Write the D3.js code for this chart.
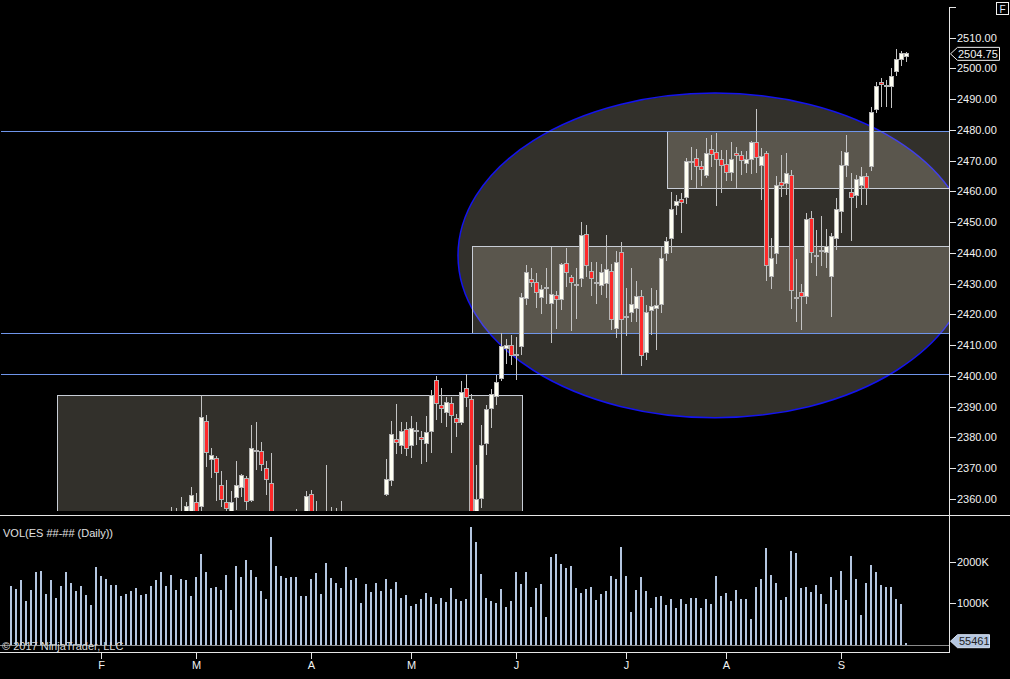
<!DOCTYPE html>
<html>
<head>
<meta charset="utf-8">
<script src="https://cdn.jsdelivr.net/npm/d3@7"></script>
<style>
  html, body { margin: 0; padding: 0; background: #000; }
  svg { display: block; font-family: "Liberation Sans", Arial, sans-serif; }
</style>
</head>
<body>
<svg id="chart" width="1010" height="679"></svg>
<script>
// daily ES bars, Jan 5 - Sep 21 2017 (early bars are below the visible range)
const barOpen = [
  2262, 2265, 2268, 2261, 2266, 2264, 2258, 2263, 2268, 2260,
  2262, 2264, 2280, 2294, 2296, 2292, 2276, 2278, 2276, 2278,
  2280, 2294, 2290, 2292, 2304, 2312, 2318, 2332, 2340, 2344,
  2346, 2348, 2350, 2353, 2351, 2355, 2356, 2359, 2357.5, 2385.25,
  2373, 2373.25, 2364.5, 2358.75, 2356, 2360.5, 2363.75, 2366.75, 2359.5, 2375.5,
  2375.5, 2370, 2365, 2342, 2345, 2340, 2348, 2344, 2352, 2351,
  2361.5, 2350, 2352, 2346, 2350, 2348, 2350, 2344, 2334, 2332,
  2326, 2344, 2336, 2326, 2346, 2361.5, 2366, 2379.25, 2377.5, 2382.5,
  2377.5, 2382.25, 2380, 2378, 2382, 2398.5, 2390.5, 2388, 2391, 2386.25,
  2384.75, 2396, 2392.5, 2352, 2360.25, 2378, 2389.5, 2393.25, 2399.25, 2409,
  2410, 2406.75, 2409.75, 2425.25, 2431.5, 2430.5, 2425.5, 2428.5, 2423.5, 2426.25,
  2425, 2436.5, 2432, 2429.5, 2431.75, 2446, 2434, 2430, 2429.5, 2430,
  2434, 2415.5, 2440.25, 2419.25, 2420.5, 2422, 2426, 2407.75, 2421.25, 2422,
  2423.25, 2439.75, 2444.75, 2455.5, 2457.5, 2458, 2469.75, 2470.75, 2468.25, 2465.25,
  2473.75, 2472.75, 2470.5, 2468.75, 2466.25, 2472.5, 2471.75, 2469, 2470.25, 2476,
  2468.5, 2472.5, 2432.5, 2439.75, 2463, 2462.75, 2465.25, 2425.25, 2427.25, 2426,
  2451.25, 2438.75, 2440.75, 2440.25, 2432.25, 2444.75, 2453.5, 2468.5, 2459.75, 2458.75,
  2462, 2464.75, 2468, 2486.75, 2495.5, 2494.25, 2494, 2499, 2503, 2503.75
];
const barHigh = [
  2268, 2271, 2270, 2268, 2272, 2268, 2266, 2270, 2271, 2266,
  2268, 2282, 2296, 2299, 2298, 2294, 2282, 2284, 2286, 2282,
  2298, 2298, 2296, 2306, 2314, 2322, 2334, 2342, 2346, 2349,
  2350, 2354, 2357.25, 2357, 2360.75, 2359, 2364, 2362, 2393.75, 2387.25,
  2376.5, 2374, 2369, 2366.25, 2362.5, 2372.25, 2368, 2367.5, 2384, 2385,
  2378.5, 2372.5, 2375, 2348, 2350, 2352, 2354, 2356.75, 2355, 2362.75,
  2363, 2359.25, 2354, 2371, 2357.5, 2357, 2359.25, 2350, 2340, 2338,
  2346, 2348, 2342, 2350, 2354, 2373, 2385.25, 2391, 2385, 2385,
  2387, 2385, 2382, 2387, 2395.5, 2400, 2396.25, 2393.25, 2393.25, 2387.5,
  2398.25, 2400.5, 2394, 2371, 2384, 2390.5, 2395.75, 2400.25, 2414, 2412,
  2413.25, 2412.75, 2427, 2436, 2435, 2433.5, 2429.5, 2435.25, 2442, 2427.5,
  2436.75, 2441.5, 2432.75, 2435, 2450, 2449.25, 2437, 2437, 2436.5, 2445.75,
  2436.5, 2440.75, 2443.5, 2428.5, 2435, 2430.75, 2428, 2423, 2428.5, 2428,
  2442, 2445.25, 2459.75, 2458.75, 2459.5, 2470.75, 2474.5, 2473.75, 2469.75, 2477.25,
  2478.5, 2479, 2473.5, 2473.5, 2476, 2474.5, 2473, 2473, 2476.5, 2486.75,
  2474, 2473, 2445, 2465, 2472, 2472.5, 2467, 2438, 2430, 2453,
  2453.5, 2447.5, 2452, 2447.75, 2446.5, 2458, 2473, 2478.5, 2466, 2465.5,
  2468, 2466, 2487.5, 2495.75, 2496.75, 2496.25, 2500, 2506.25, 2505.75, 2505.5
];
const barLow = [
  2258, 2260, 2258, 2256, 2260, 2254, 2255, 2259, 2256, 2254,
  2258, 2262, 2278, 2290, 2288, 2272, 2268, 2270, 2270, 2268,
  2278, 2286, 2284, 2290, 2302, 2308, 2316, 2328, 2336, 2338,
  2340, 2344, 2346, 2348, 2347, 2350, 2353, 2352, 2355, 2370.5,
  2366.75, 2359.5, 2357.5, 2354, 2354, 2356.5, 2360.75, 2356.5, 2359, 2369.5,
  2369, 2361.25, 2340, 2334, 2337, 2331, 2340, 2340, 2344, 2348,
  2348, 2344, 2340, 2340, 2340, 2342, 2340, 2330, 2326, 2322,
  2324, 2332, 2320, 2324, 2338, 2361, 2364.25, 2374.75, 2374.75, 2374,
  2373.25, 2377.5, 2371.5, 2372, 2375, 2385.75, 2384.75, 2383.5, 2375, 2380.25,
  2384, 2390, 2353, 2345, 2357, 2374.25, 2383, 2390.5, 2398.5, 2404,
  2403.5, 2398.75, 2406.75, 2423, 2429, 2422, 2420, 2423.25, 2410.75, 2415.25,
  2421.5, 2429, 2414.5, 2418.5, 2429, 2432.25, 2426, 2423.5, 2426.25, 2425.25,
  2415, 2412.25, 2400.25, 2413, 2417.5, 2417.5, 2403.25, 2405.25, 2413.25, 2408.5,
  2420.5, 2437.25, 2440, 2452.25, 2446.5, 2456, 2463.75, 2461.25, 2461.75, 2464.5,
  2468, 2455.25, 2459.5, 2463.5, 2463.25, 2461.25, 2465.5, 2466, 2465.75, 2466,
  2457.25, 2431, 2428.25, 2436.5, 2458.25, 2458.75, 2421.75, 2417.5, 2415, 2423.5,
  2436.75, 2432.5, 2435.75, 2435, 2419.25, 2441, 2446.5, 2464.75, 2443.75, 2454.75,
  2455.5, 2455.5, 2466.75, 2485.5, 2487.5, 2487.5, 2487, 2497.5, 2500.75, 2502.25
];
const barClose = [
  2265, 2268, 2261, 2266, 2264, 2258, 2263, 2268, 2260, 2262,
  2264, 2280, 2294, 2296, 2292, 2276, 2278, 2276, 2278, 2280,
  2294, 2290, 2292, 2304, 2312, 2318, 2332, 2340, 2344, 2346,
  2348, 2352, 2353, 2351, 2355, 2357.5, 2361.25, 2355, 2386.5, 2375,
  2374.25, 2368.75, 2359.75, 2357, 2359, 2364.25, 2367.75, 2359.25, 2376.5, 2375.75,
  2371.25, 2366.5, 2342, 2345, 2340, 2348, 2344, 2352, 2350, 2360.75,
  2350, 2352, 2346, 2350, 2348, 2350, 2344, 2334, 2332, 2326,
  2344, 2336, 2326, 2346, 2350, 2366.25, 2381, 2378.5, 2382, 2376.5,
  2383, 2382.25, 2379.5, 2381.5, 2393.75, 2391, 2389.5, 2391.5, 2387, 2385,
  2394.75, 2393, 2355, 2359.75, 2377.5, 2389, 2394, 2398, 2409.5, 2410,
  2406.75, 2407, 2425.5, 2433.75, 2430.25, 2427, 2428.25, 2428.75, 2426.5, 2425,
  2436.25, 2433.75, 2430.5, 2429.75, 2445.75, 2436, 2431.75, 2430.25, 2433.5, 2434.5,
  2418.5, 2437, 2418.5, 2419.5, 2423.25, 2426, 2406.75, 2420.75, 2422.75, 2423,
  2438.25, 2443.75, 2454.25, 2456.75, 2456.25, 2469.75, 2469.75, 2468, 2467, 2472.5,
  2472, 2470.5, 2468.5, 2466.25, 2470.5, 2471.75, 2470, 2470.5, 2476, 2471,
  2471.5, 2436, 2438.25, 2462, 2462, 2466, 2427.75, 2425.5, 2426, 2451,
  2440, 2439.25, 2440.75, 2442, 2445.25, 2454.25, 2468.5, 2472.75, 2458, 2463.75,
  2464.75, 2461, 2485.75, 2494.25, 2494.75, 2494.5, 2497.5, 2503, 2505, 2504.75
];
// volume in thousands of contracts
const volumeK = [
  1420, 1350, 1560, 1060, 1320, 1750, 1780, 1230, 1560, 1130,
  1420, 1750, 1490, 1300, 1420, 1200, 960, 1870, 1660, 1590,
  1440, 1440, 1180, 1230, 1300, 1370, 1200, 1230, 1420, 1560,
  1750, 1420, 1680, 1320, 1590, 1560, 1180, 1630, 2190, 1750,
  1370, 1390, 1320, 1680, 840, 1900, 1630, 2040, 1800, 1630,
  1300, 1110, 2600, 1900, 1660, 1610, 1630, 1630, 1180, 1180,
  1590, 1730, 1230, 1970, 1610, 1490, 1370, 1870, 1560, 1610,
  1010, 1470, 1270, 1490, 1300, 1590, 1350, 1510, 1130, 1200,
  940, 990, 1110, 1250, 1150, 990, 1130, 1030, 1370, 1110,
  1060, 1110, 2840, 2480, 1710, 1130, 1060, 1010, 1350, 910,
  1060, 1750, 1470, 1750, 910, 1370, 1470, 670, 2120, 2190,
  1950, 1850, 1900, 1370, 1250, 1350, 1390, 1080, 1230, 1300,
  1660, 1590, 2360, 1660, 790, 1320, 1630, 1300, 890, 1150,
  1180, 960, 1110, 890, 1110, 990, 1130, 1130, 890, 1110,
  990, 1660, 1180, 1250, 1060, 1320, 1110, 1110, 620, 1390,
  1590, 2330, 1680, 1490, 1080, 1150, 2260, 2210, 1370, 1390,
  1270, 1440, 1230, 990, 1630, 1320, 1780, 1080, 2140, 1590,
  720, 1490, 1920, 1750, 1440, 1390, 1390, 1110, 990, 55.461
];

const monthLabels = ["F", "M", "A", "M", "J", "J", "A", "S"];
const monthStartBar = [18, 37, 60, 80, 101, 123, 143, 166];

const priceTicks = [2360, 2370, 2380, 2390, 2400, 2410, 2420, 2430, 2440, 2450, 2460, 2470, 2480, 2490, 2500, 2510, 2520];
const volumeTicksK = [1000, 2000];

// drawing objects on the chart (bar index / price anchors)
const lineLevels = [2479.6, 2413.9, 2400.5];
const rectFromBar = [9.1, 92.1, 131.1];
const rectToBar = [102.1, 200, 200];
const rectLowPrice = [2340, 2413.9, 2461];
const rectHighPrice = [2393.8, 2442.3, 2479.6];
const ellipseBars = [89.3, 192.1];
const ellipsePrices = [2386.4, 2492];

const WIDTH = 1010;
const HEIGHT = 679;
const AXIS_X = 949;
const PRICE_BOTTOM = 511;
const VOL_TOP = 516;
const VOL_BASE = 645;
const TIME_AXIS_Y = 652;
const BAR_SPACING = 5;
const FIRST_BAR_X = 11.5;

const n = barClose.length;
const bars = d3.range(n).map(i => ({
  i: i,
  o: barOpen[i],
  h: barHigh[i],
  l: barLow[i],
  c: barClose[i],
  v: volumeK[i]
}));

const x = d3.scaleLinear()
  .domain([0, n - 1])
  .range([FIRST_BAR_X, FIRST_BAR_X + BAR_SPACING * (n - 1)]);
const y = d3.scaleLinear().domain([2360, 2510]).range([499, 37.7]);
const yVol = d3.scaleLinear().domain([0, 2000]).range([VOL_BASE, 561.7]);

const svg = d3.select("#chart");
svg.append("rect").attr("width", WIDTH).attr("height", HEIGHT).attr("fill", "#000");

const defs = svg.append("defs");
defs.append("clipPath").attr("id", "price-clip")
  .append("rect").attr("x", 0).attr("y", 0).attr("width", AXIS_X).attr("height", PRICE_BOTTOM);
defs.append("clipPath").attr("id", "vol-clip")
  .append("rect").attr("x", 0).attr("y", VOL_TOP).attr("width", AXIS_X).attr("height", VOL_BASE - VOL_TOP);

const price = svg.append("g").attr("clip-path", "url(#price-clip)");

// drawings go under the bars
const DRAW_FILL = "rgb(250,240,215)";
const cx = (x(ellipseBars[0]) + x(ellipseBars[1])) / 2;
const cy = (y(ellipsePrices[0]) + y(ellipsePrices[1])) / 2;
price.append("ellipse")
  .attr("cx", cx)
  .attr("cy", cy)
  .attr("rx", (x(ellipseBars[1]) - x(ellipseBars[0])) / 2)
  .attr("ry", (y(ellipsePrices[0]) - y(ellipsePrices[1])) / 2)
  .attr("fill", DRAW_FILL)
  .attr("fill-opacity", 0.2)
  .attr("stroke", "#1414ee")
  .attr("stroke-width", 1.5);

price.selectAll(".zone")
  .data(d3.range(rectFromBar.length))
  .enter()
  .append("rect")
  .attr("class", "zone")
  .attr("x", d => Math.round(x(rectFromBar[d])) + 0.5)
  .attr("y", d => Math.round(y(rectHighPrice[d])) + 0.5)
  .attr("width", d => x(rectToBar[d]) - x(rectFromBar[d]))
  .attr("height", d => y(rectLowPrice[d]) - y(rectHighPrice[d]))
  .attr("fill", DRAW_FILL)
  .attr("fill-opacity", 0.2)
  .attr("stroke", "#c8cdd6")
  .attr("stroke-width", 1)
  .attr("shape-rendering", "crispEdges");

price.selectAll(".level")
  .data(lineLevels)
  .enter()
  .append("line")
  .attr("class", "level")
  .attr("x1", 1)
  .attr("x2", AXIS_X)
  .attr("y1", d => Math.round(y(d)) + 0.5)
  .attr("y2", d => Math.round(y(d)) + 0.5)
  .attr("stroke", "#6f95ea")
  .attr("stroke-width", 1)
  .attr("shape-rendering", "crispEdges");

// candles
const candle = price.selectAll(".candle")
  .data(bars)
  .enter()
  .append("g")
  .attr("class", "candle");

candle.append("line")
  .attr("x1", d => x(d.i))
  .attr("x2", d => x(d.i))
  .attr("y1", d => y(d.h))
  .attr("y2", d => y(d.l))
  .attr("stroke", "#c4c4c4")
  .attr("stroke-width", 1)
  .attr("shape-rendering", "crispEdges");

candle.append("rect")
  .attr("x", d => x(d.i) - 2)
  .attr("y", d => y(Math.max(d.o, d.c)))
  .attr("width", 4)
  .attr("height", d => Math.max(1, y(Math.min(d.o, d.c)) - y(Math.max(d.o, d.c))))
  .attr("fill", d => d.c >= d.o ? "#fffff2" : "#ff2a2a")
  .attr("stroke", "#b4b4b4")
  .attr("stroke-width", 1)
  .attr("shape-rendering", "crispEdges");

// volume panel
const vol = svg.append("g").attr("clip-path", "url(#vol-clip)");
vol.selectAll(".vol")
  .data(bars)
  .enter()
  .append("rect")
  .attr("class", "vol")
  .attr("x", d => x(d.i) - 1.5)
  .attr("y", d => yVol(d.v))
  .attr("width", 2)
  .attr("height", d => VOL_BASE - yVol(d.v))
  .attr("fill", "#b4c6e0")
  .attr("shape-rendering", "crispEdges");

svg.append("line")
  .attr("x1", 0).attr("x2", AXIS_X)
  .attr("y1", VOL_BASE + 0.5).attr("y2", VOL_BASE + 0.5)
  .attr("stroke", "#8a8a8a")
  .attr("shape-rendering", "crispEdges");

// frame lines
svg.append("line")
  .attr("x1", 0).attr("x2", WIDTH)
  .attr("y1", 515.5).attr("y2", 515.5)
  .attr("stroke", "#e6e6e6")
  .attr("shape-rendering", "crispEdges");
svg.append("line")
  .attr("x1", 0).attr("x2", AXIS_X)
  .attr("y1", TIME_AXIS_Y + 0.5).attr("y2", TIME_AXIS_Y + 0.5)
  .attr("stroke", "#e6e6e6")
  .attr("shape-rendering", "crispEdges");
svg.append("line")
  .attr("x1", AXIS_X + 0.5).attr("x2", AXIS_X + 0.5)
  .attr("y1", y(2520)).attr("y2", TIME_AXIS_Y + 1)
  .attr("stroke", "#e6e6e6")
  .attr("shape-rendering", "crispEdges");

const TEXT = "#f2f2f2";

// price axis
const pAxis = svg.append("g").selectAll("g")
  .data(priceTicks)
  .enter()
  .append("g")
  .attr("transform", d => "translate(0," + (Math.round(y(d)) + 0.5) + ")");
pAxis.append("line")
  .attr("x1", AXIS_X).attr("x2", AXIS_X + 7)
  .attr("stroke", "#e6e6e6")
  .attr("shape-rendering", "crispEdges");
pAxis.filter(d => d <= 2510)
  .append("text")
  .attr("x", AXIS_X + 8)
  .attr("dy", "0.36em")
  .attr("font-size", 11)
  .attr("fill", TEXT)
  .text(d => d3.format(".2f")(d));

// volume axis
const vAxis = svg.append("g").selectAll("g")
  .data(volumeTicksK)
  .enter()
  .append("g")
  .attr("transform", d => "translate(0," + (Math.round(yVol(d)) + 0.5) + ")");
vAxis.append("line")
  .attr("x1", AXIS_X).attr("x2", AXIS_X + 7)
  .attr("stroke", "#e6e6e6")
  .attr("shape-rendering", "crispEdges");
vAxis.append("text")
  .attr("x", AXIS_X + 8)
  .attr("dy", "0.36em")
  .attr("font-size", 11)
  .attr("fill", TEXT)
  .text(d => d + "K");

// time axis
const tAxis = svg.append("g").selectAll("g")
  .data(monthStartBar)
  .enter()
  .append("g")
  .attr("transform", d => "translate(" + x(d) + ",0)");
tAxis.append("line")
  .attr("y1", TIME_AXIS_Y).attr("y2", TIME_AXIS_Y + 7)
  .attr("stroke", "#e6e6e6")
  .attr("shape-rendering", "crispEdges");
tAxis.append("text")
  .attr("y", 669)
  .attr("text-anchor", "middle")
  .attr("font-size", 11)
  .attr("fill", TEXT)
  .text((d, i) => monthLabels[i]);

// last price marker
const lastY = y(barClose[n - 1]);
svg.append("path")
  .attr("d", "M" + (AXIS_X + 1.5) + "," + lastY +
    " L" + (AXIS_X + 8.5) + "," + (lastY - 6.5) +
    " H999.5 V" + (lastY + 6.5) + " H" + (AXIS_X + 8.5) + " Z")
  .attr("fill", "#000")
  .attr("stroke", "#f0f0f0");
svg.append("text")
  .attr("x", AXIS_X + 9)
  .attr("y", lastY)
  .attr("dy", "0.36em")
  .attr("font-size", 11)
  .attr("fill", TEXT)
  .text(d3.format(".2f")(barClose[n - 1]));

// last volume marker
const lastVY = yVol(volumeK[n - 1]) - 1.5;
svg.append("path")
  .attr("d", "M" + (AXIS_X + 1.5) + "," + lastVY +
    " L" + (AXIS_X + 8.5) + "," + (lastVY - 6.5) +
    " H989.5 V" + (lastVY + 6.5) + " H" + (AXIS_X + 8.5) + " Z")
  .attr("fill", "#b4c6e0")
  .attr("stroke", "#d8e2f0");
svg.append("text")
  .attr("x", AXIS_X + 10)
  .attr("y", lastVY)
  .attr("dy", "0.36em")
  .attr("font-size", 11)
  .attr("fill", "#222")
  .text(Math.round(volumeK[n - 1] * 1000));

// labels
svg.append("text")
  .attr("x", 3).attr("y", 537)
  .attr("font-size", 11)
  .attr("fill", "#e0e0e0")
  .text("VOL(ES ##-## (Daily))");
svg.append("text")
  .attr("x", 2).attr("y", 650)
  .attr("font-size", 11)
  .attr("fill", "#d8d8d8")
  .text("\u00a9 2017 NinjaTrader, LLC");

// the "F" box at the top right
svg.append("rect")
  .attr("x", 996.5).attr("y", 2.5)
  .attr("width", 12).attr("height", 12)
  .attr("fill", "#000")
  .attr("stroke", "#f0f0f0");
svg.append("text")
  .attr("x", 1002.5).attr("y", 12.5)
  .attr("text-anchor", "middle")
  .attr("font-size", 10)
  .attr("fill", "#dfe8ff")
  .text("F");
</script>
</body>
</html>
